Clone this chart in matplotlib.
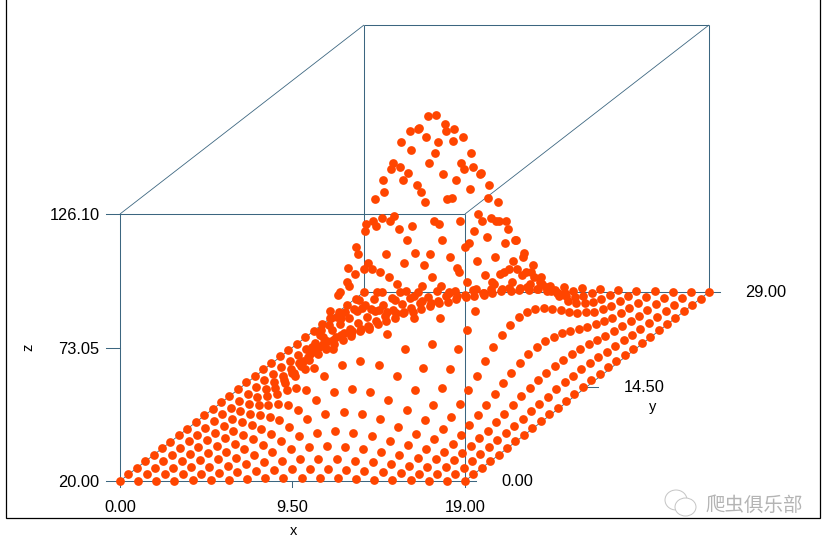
import matplotlib
matplotlib.use("Agg")
import matplotlib.pyplot as plt
from matplotlib.patches import Ellipse, Rectangle

########################################## DATA ##########################################
x_values = list(range(20))
y_values = list(range(30))

# one row per x, values along y = 0..29
z_rows = [
    [20.0,20.0,20.0,20.0,20.0,20.0,20.1,20.1,20.1,20.2,20.2,20.3,20.3,20.3,20.4,20.4,20.4,20.3,20.3,20.3,20.2,20.2,20.1,20.1,20.1,20.0,20.0,20.0,20.0,20.0],
    [20.0,20.0,20.0,20.1,20.1,20.1,20.2,20.2,20.3,20.4,20.6,20.7,20.9,21.0,21.1,21.2,21.2,21.1,21.0,20.9,20.7,20.6,20.4,20.3,20.2,20.2,20.1,20.1,20.0,20.0],
    [20.0,20.1,20.1,20.2,20.3,20.4,20.6,20.8,21.1,21.5,21.8,22.2,22.5,22.8,23.0,23.0,23.0,22.8,22.5,22.2,21.8,21.5,21.1,20.8,20.6,20.4,20.3,20.2,20.1,20.1],
    [20.1,20.1,20.2,20.4,20.6,20.9,21.4,21.9,22.6,23.4,24.2,25.1,25.8,26.4,26.8,27.0,26.8,26.4,25.8,25.1,24.2,23.4,22.6,21.9,21.4,20.9,20.6,20.4,20.2,20.1],
    [20.2,20.3,20.5,20.8,21.3,21.9,22.8,24.0,25.4,27.0,28.7,30.4,32.0,33.2,34.1,34.4,34.1,33.2,32.0,30.4,28.7,27.0,25.4,24.0,22.8,21.9,21.3,20.8,20.5,20.3],
    [20.3,20.5,20.9,21.5,22.3,23.6,25.2,27.4,29.9,32.9,36.0,39.2,42.1,44.4,45.9,46.5,45.9,44.4,42.1,39.2,36.0,32.9,29.9,27.4,25.2,23.6,22.3,21.5,20.9,20.5],
    [20.5,20.9,21.5,22.5,23.9,25.9,28.6,32.1,36.4,41.2,46.4,51.7,56.4,60.2,62.8,63.6,62.8,60.2,56.4,51.7,46.4,41.2,36.4,32.1,28.6,25.9,23.9,22.5,21.5,20.9],
    [20.7,21.3,22.2,23.6,25.7,28.7,32.7,37.9,44.1,51.3,59.0,66.7,73.7,79.4,83.1,84.3,83.1,79.4,73.7,66.7,59.0,51.3,44.1,37.9,32.7,28.7,25.7,23.6,22.2,21.3],
    [21.0,21.7,22.9,24.8,27.5,31.5,36.8,43.6,51.9,61.3,71.5,81.7,90.9,98.4,103.3,105.0,103.3,98.4,90.9,81.7,71.5,61.3,51.9,43.6,36.8,31.5,27.5,24.8,22.9,21.7],
    [21.1,22.0,23.4,25.7,28.9,33.6,39.9,47.9,57.7,68.8,80.8,92.8,103.8,112.6,118.4,120.4,118.4,112.6,103.8,92.8,80.8,68.8,57.7,47.9,39.9,33.6,28.9,25.7,23.4,22.0],
    [21.2,22.1,23.6,26.0,29.4,34.4,41.0,49.5,59.8,71.6,84.3,97.0,108.6,117.9,124.0,126.1,124.0,117.9,108.6,97.0,84.3,71.6,59.8,49.5,41.0,34.4,29.4,26.0,23.6,22.1],
    [21.1,22.0,23.4,25.7,28.9,33.6,39.9,47.9,57.7,68.8,80.8,92.8,103.8,112.6,118.4,120.4,118.4,112.6,103.8,92.8,80.8,68.8,57.7,47.9,39.9,33.6,28.9,25.7,23.4,22.0],
    [21.0,21.7,22.9,24.8,27.5,31.5,36.8,43.6,51.9,61.3,71.5,81.7,90.9,98.4,103.3,105.0,103.3,98.4,90.9,81.7,71.5,61.3,51.9,43.6,36.8,31.5,27.5,24.8,22.9,21.7],
    [20.7,21.3,22.2,23.6,25.7,28.7,32.7,37.9,44.1,51.3,59.0,66.7,73.7,79.4,83.1,84.3,83.1,79.4,73.7,66.7,59.0,51.3,44.1,37.9,32.7,28.7,25.7,23.6,22.2,21.3],
    [20.5,20.9,21.5,22.5,23.9,25.9,28.6,32.1,36.4,41.2,46.4,51.7,56.4,60.2,62.8,63.6,62.8,60.2,56.4,51.7,46.4,41.2,36.4,32.1,28.6,25.9,23.9,22.5,21.5,20.9],
    [20.3,20.5,20.9,21.5,22.3,23.6,25.2,27.4,29.9,32.9,36.0,39.2,42.1,44.4,45.9,46.5,45.9,44.4,42.1,39.2,36.0,32.9,29.9,27.4,25.2,23.6,22.3,21.5,20.9,20.5],
    [20.2,20.3,20.5,20.8,21.3,21.9,22.8,24.0,25.4,27.0,28.7,30.4,32.0,33.2,34.1,34.4,34.1,33.2,32.0,30.4,28.7,27.0,25.4,24.0,22.8,21.9,21.3,20.8,20.5,20.3],
    [20.1,20.1,20.2,20.4,20.6,20.9,21.4,21.9,22.6,23.4,24.2,25.1,25.8,26.4,26.8,27.0,26.8,26.4,25.8,25.1,24.2,23.4,22.6,21.9,21.4,20.9,20.6,20.4,20.2,20.1],
    [20.0,20.1,20.1,20.2,20.3,20.4,20.6,20.8,21.1,21.5,21.8,22.2,22.5,22.8,23.0,23.0,23.0,22.8,22.5,22.2,21.8,21.5,21.1,20.8,20.6,20.4,20.3,20.2,20.1,20.1],
    [20.0,20.0,20.0,20.1,20.1,20.1,20.2,20.2,20.3,20.4,20.6,20.7,20.9,21.0,21.1,21.2,21.2,21.1,21.0,20.9,20.7,20.6,20.4,20.3,20.2,20.2,20.1,20.1,20.0,20.0],
]

x_ticks = [0.0, 9.5, 19.0]
y_ticks = [0.0, 14.5, 29.0]
z_ticks = [20.0, 73.05, 126.1]
watermark = "爬虫俱乐部"
########################################## DATA ##########################################

LINE = "#3c6680"
DOT = "#ff4500"
GREY = "#c4c4c4"


# oblique projection of the 3d box onto the page, in pixels
def project(x, y, z):
    px = 120 + x * 345 / 19 + y * 244 / 29
    py = 481 - y * 189 / 29 - (z - 20) * 267 / 106.1
    return px, py


def seg(ax, a, b, lw=0.75):
    p0 = project(*a)
    p1 = project(*b)
    ax.plot([p0[0], p1[0]], [p0[1], p1[1]], color=LINE, lw=lw, solid_capstyle="butt", zorder=2)


def main():
    plt.rcParams['font.family'] = ['Liberation Sans', 'DejaVu Sans']
    fig = plt.figure(figsize=(8.29, 5.40), dpi=100)
    ax = fig.add_axes([0, 0, 1, 1])
    ax.set_xlim(0, 829)
    ax.set_ylim(540, 0)
    ax.axis("off")

    # outer frame, its top edge is cut off by the page
    ax.add_patch(Rectangle((6, -5), 814, 522.5, fill=False, edgecolor="black", lw=0.9, zorder=1))

    x0, x1 = x_ticks[0], x_ticks[-1]
    y0, y1 = y_ticks[0], y_ticks[-1]
    z0, z1 = z_ticks[0], z_ticks[-1]

    # box edges
    for y in (y0, y1):
        for z in (z0, z1):
            seg(ax, (x0, y, z), (x1, y, z))
        for x in (x0, x1):
            seg(ax, (x, y, z0), (x, y, z1))
    for x in (x0, x1):
        for z in (z0, z1):
            seg(ax, (x, y0, z), (x, y1, z), lw=0.6)

    # ticks and tick labels
    for x in x_ticks:
        px, py = project(x, y0, z0)
        ax.plot([px, px], [py, py + 6], color=LINE, lw=0.75, zorder=2)
        ax.text(px, py + 26.5, f"{x:.2f}", ha="center", va="center", fontsize=11.8, color="black")
    for y in y_ticks:
        px, py = project(x1, y, z0)
        ax.plot([px, px + 11], [py, py], color=LINE, lw=0.75, zorder=2)
        ax.text(px + 36.5, py + 0.5, f"{y:.2f}", ha="left", va="center", fontsize=11.8, color="black")
    for z in z_ticks:
        px, py = project(x0, y0, z)
        ax.plot([px - 14, px], [py, py], color=LINE, lw=0.75, zorder=2)
        ax.text(99.5, py + 1.5, f"{z:.2f}", ha="right", va="center", fontsize=11.8, color="black")

    ax.text(293.5, 531, "x", ha="center", va="center", fontsize=10.5)
    ax.text(653, 407, "y", ha="center", va="center", fontsize=10.5)
    ax.text(28, 347, "z", ha="center", va="center", fontsize=10.5, rotation=90)

    # the points
    px, py = [], []
    for i, x in enumerate(x_values):
        for j, y in enumerate(y_values):
            a, b = project(x, y, z_rows[i][j])
            px.append(a)
            py.append(b)
    ax.plot(px, py, ls="none", marker="o", ms=6.3, mfc=DOT, mec=DOT, mew=0, zorder=3, antialiased=False)

    # watermark
    ax.add_patch(Ellipse((676, 500), 22, 20, facecolor="white", edgecolor=GREY, lw=0.7, zorder=4))
    ax.add_patch(Ellipse((685.5, 507), 21, 18, facecolor="white", edgecolor=GREY, lw=0.7, zorder=4))
    ax.text(754, 505, watermark, ha="center", va="center", fontsize=14, color="#b4b4b4",
            family=['Noto Sans CJK SC', 'DejaVu Sans'], zorder=4)

    fig.savefig("out.png", dpi=100)


if __name__ == "__main__":
    main()
